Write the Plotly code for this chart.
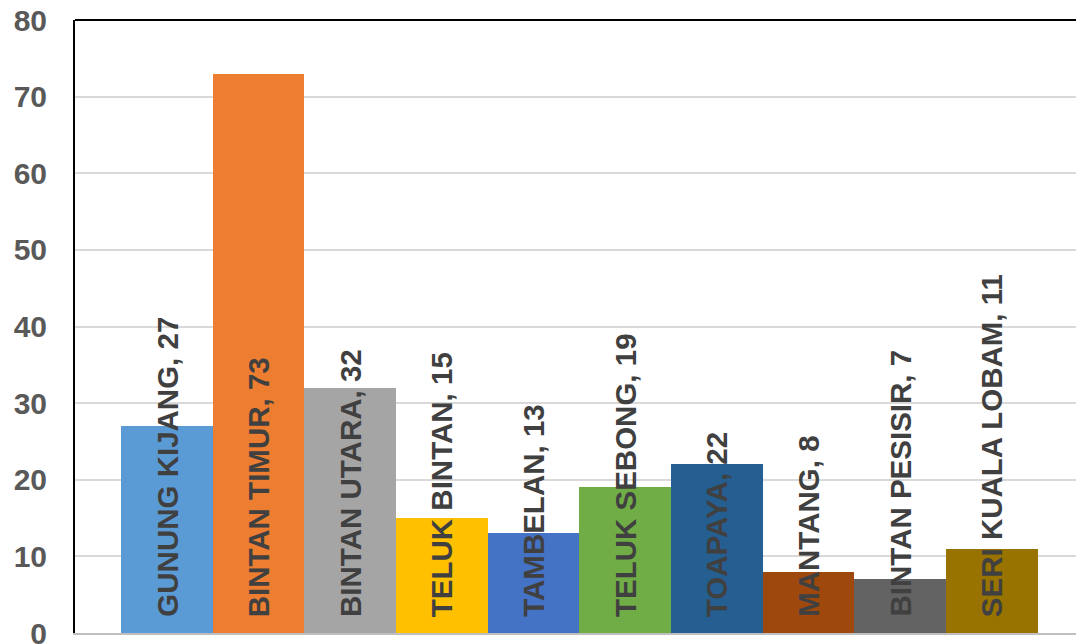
import plotly.graph_objects as go

kecamatan = ['GUNUNG KIJANG', 'BINTAN TIMUR', 'BINTAN UTARA', 'TELUK BINTAN', 'TAMBELAN',
             'TELUK SEBONG', 'TOAPAYA', 'MANTANG', 'BINTAN PESISIR', 'SERI KUALA LOBAM']
jumlah = [27, 73, 32, 15, 13, 19, 22, 8, 7, 11]
warna = ['#5B9BD5', '#ED7D31', '#A5A5A5', '#FFC000', '#4472C4',
         '#70AD47', '#255E91', '#9E480E', '#636363', '#997300']
y_ticks = [0, 10, 20, 30, 40, 50, 60, 70, 80]

fig = go.Figure()
fig.add_trace(go.Bar(
    x=list(range(len(kecamatan))),
    y=jumlah,
    width=1,
    marker=dict(color=warna, line=dict(width=0)),
    hovertext=kecamatan,
    showlegend=False
))

# label di dalam batang, mulai dari dasar
for i, (nama, n) in enumerate(zip(kecamatan, jumlah)):
    fig.add_annotation(
        x=i, y=0, text=f'<b>{nama}, {n}</b>',
        textangle=-90, showarrow=False,
        xanchor='center', yanchor='bottom', yshift=14,
        font=dict(family='Liberation Sans, Arial', size=29.5, color='#404040')
    )

# garis atas
fig.add_shape(type='line', xref='paper', yref='paper', x0=0, x1=1, y0=1, y1=1,
              line=dict(color='black', width=2))

fig.update_layout(
    width=1076, height=644,
    margin=dict(l=75, r=0, t=20, b=11, autoexpand=False),
    plot_bgcolor='white', paper_bgcolor='white',
    bargap=0,
    font=dict(family='Liberation Sans, Arial')
)
fig.update_xaxes(range=[-1, 9.92], showticklabels=False, showgrid=False, zeroline=False,
                 showline=True, linecolor='#BFBFBF', linewidth=2, automargin=False)
fig.update_yaxes(range=[0, 80], tickvals=y_ticks, showgrid=True, gridcolor='#D9D9D9', gridwidth=2,
                 zeroline=False, showline=True, linecolor='black', linewidth=2,
                 ticks='', ticklabelstandoff=20, automargin=False, ticklabeloverflow='allow',
                 tickfont=dict(family='Liberation Sans, Arial', size=30, color='#595959', weight='bold'))

# halaman tanpa margin bawaan browser
fig.write_html('out.html', config={'displayModeBar': False},
               post_script="document.body.style.margin='0';document.body.style.overflow='hidden';")
